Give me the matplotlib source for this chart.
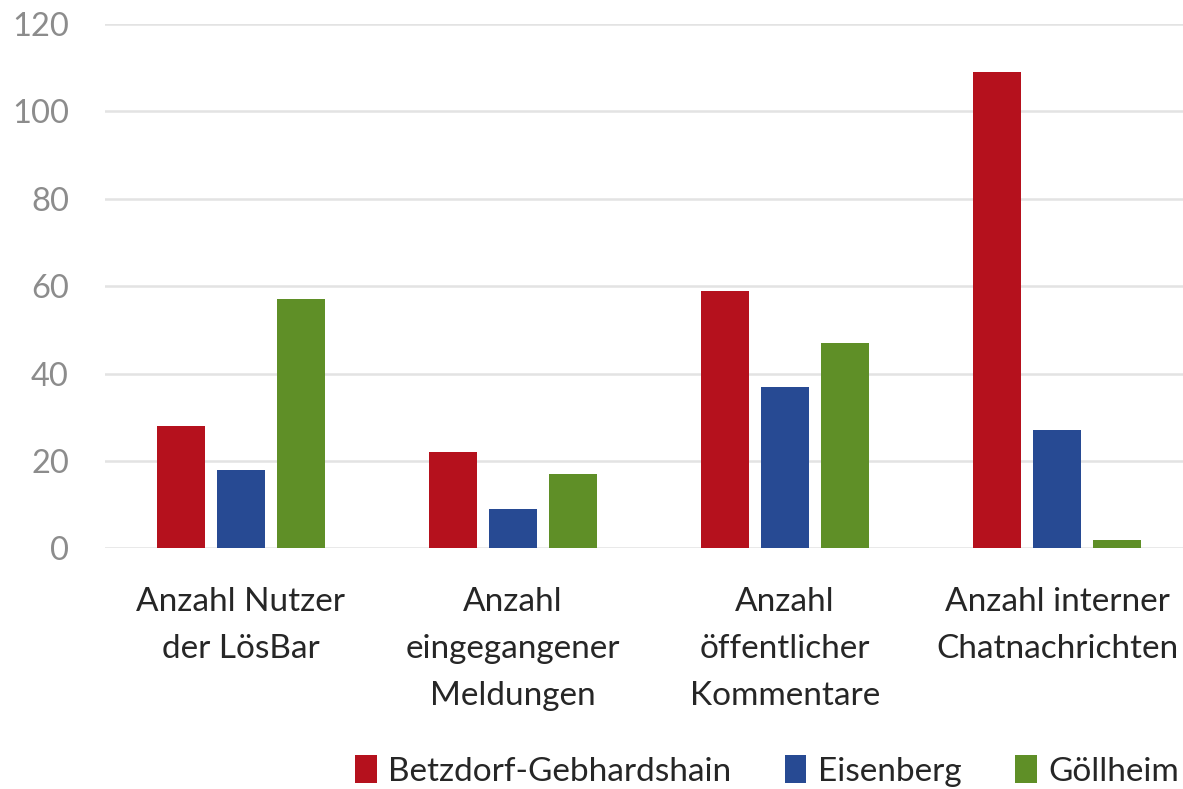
import matplotlib
matplotlib.use("Agg")
import matplotlib.pyplot as plt
from matplotlib.patches import Patch
import numpy as np

plt.rcParams["font.family"] = ["Lato", "DejaVu Sans"]

categories = ["Anzahl Nutzer\nder LösBar", "Anzahl\neingegangener\nMeldungen",
              "Anzahl\nöffentlicher\nKommentare", "Anzahl interner\nChatnachrichten"]
series = ["Betzdorf-Gebhardshain", "Eisenberg", "Göllheim"]
betzdorf = [28, 22, 59, 109]
eisenberg = [18, 9, 37, 27]
goellheim = [57, 17, 47, 2]
colors = ["#B5111D", "#274A93", "#5F8F27"]

fig = plt.figure(figsize=(11.83, 7.89), dpi=100)
ax = fig.add_axes([105 / 1183, (789 - 548.3) / 789, 1088 / 1183, 524.3 / 789])

x = np.arange(len(categories))
w = 0.177
off = 0.22
for i, (vals, col) in enumerate(zip([betzdorf, eisenberg, goellheim], colors)):
    ax.bar(x + (i - 1) * off, vals, w, color=col, zorder=3)

ax.set_xlim(-0.5, 3.5)
ax.set_ylim(0, 120)
ax.set_yticks(range(0, 121, 20))
ax.yaxis.grid(True, color="#E3E3E3", linewidth=1.8, zorder=0)
for s in ax.spines.values():
    s.set_visible(False)
ax.tick_params(axis="y", length=0, pad=26, labelsize=23.5, labelcolor="#8C8C8C")
ax.tick_params(axis="x", length=0, pad=28, labelsize=24, labelcolor="#262626")
ax.set_xticks(x)
ax.set_xticklabels(categories, linespacing=1.7)

handles = [Patch(facecolor=c, label=s) for c, s in zip(colors, series)]
fig.legend(handles=handles, loc="center", bbox_to_anchor=(767 / 1183, 1 - 771 / 789),
           ncol=3, frameon=False, fontsize=24, labelcolor="#262626",
           handlelength=0.65, handleheight=0.9, handletextpad=0.35, columnspacing=1.6)

fig.savefig("out.png", dpi=100)
